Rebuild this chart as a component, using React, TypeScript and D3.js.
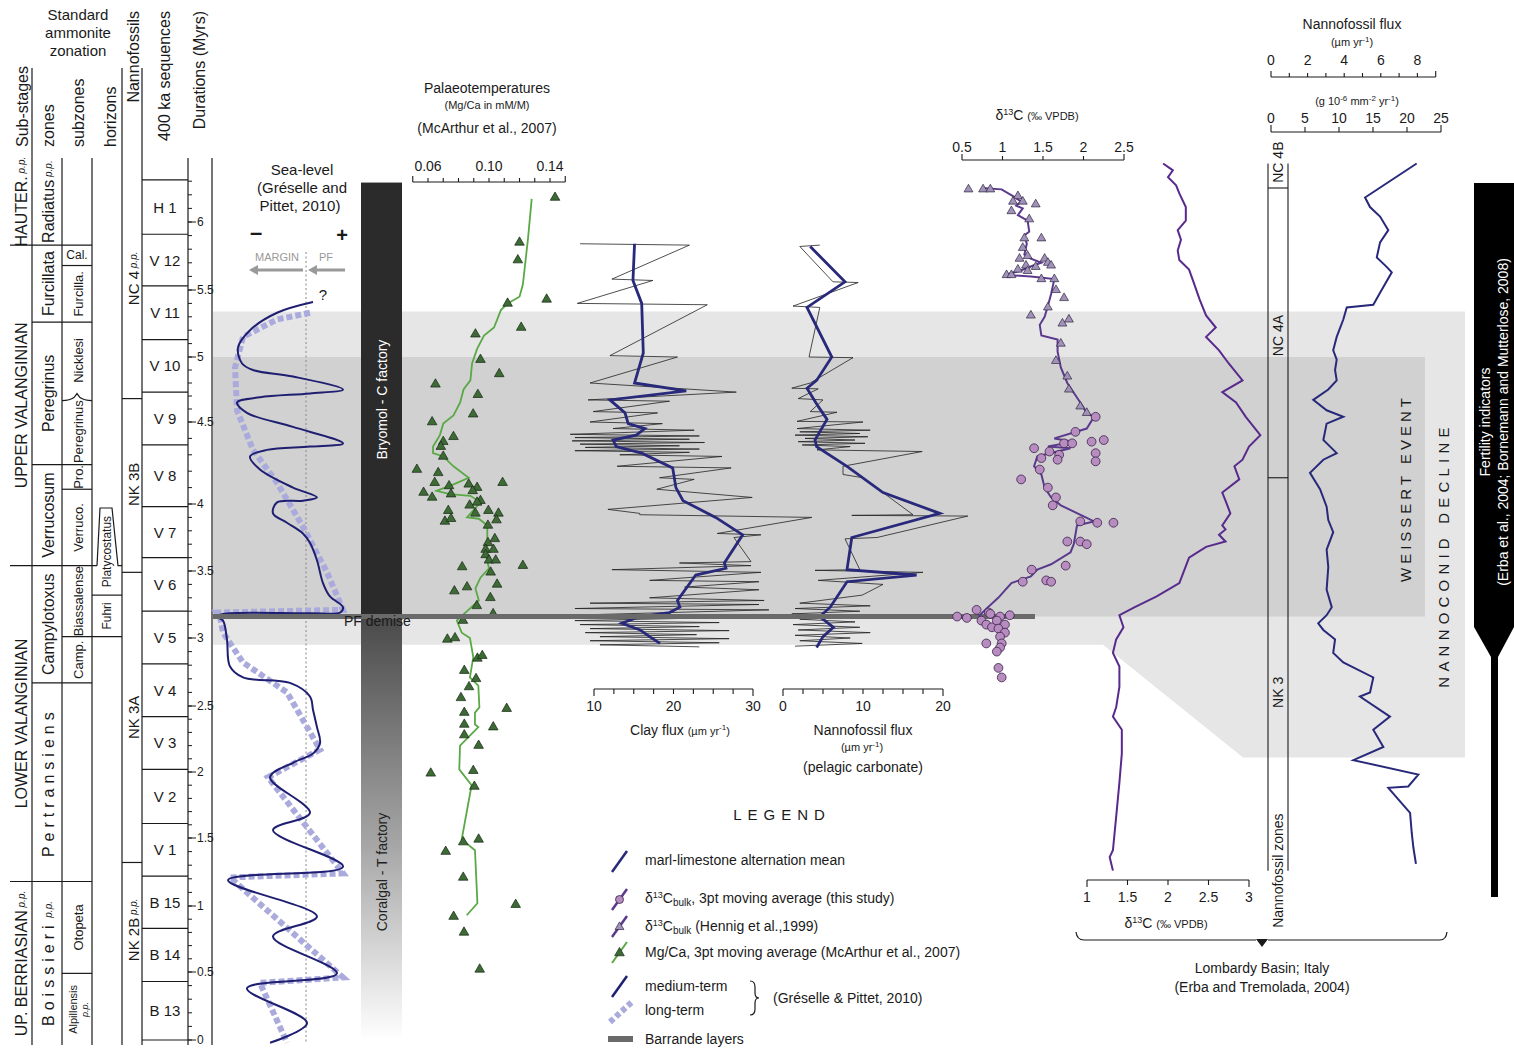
import React from "react";
import * as d3 from "d3";

const FONT = "'Liberation Sans', Arial, Helvetica, sans-serif";

/* ===================== DATA ===================== */
// Durations axis (Myr)
const durationTicks = [0, 0.5, 1, 1.5, 2, 2.5, 3, 3.5, 4, 4.5, 5, 5.5, 6];

// 400 ka sequences (boundaries in Myr, top -> bottom)
const sequenceBounds = [6.31, 5.91, 5.53, 5.13, 4.73, 4.36, 3.98, 3.6, 3.2, 2.81, 2.42, 2.02, 1.61, 1.22, 0.83, 0.43, 0];
const sequenceNames = ["H 1", "V 12", "V 11", "V 10", "V 9", "V 8", "V 7", "V 6", "V 5", "V 4", "V 3", "V 2", "V 1", "B 15", "B 14", "B 13"];

type Unit = { name: string; top: number; bottom: number; pp?: boolean; spaced?: boolean; at?: number };

const subStages: Unit[] = [
  { name: "HAUTER.", top: 6.47, bottom: 5.83, pp: true },
  { name: "UPPER VALANGINIAN", top: 5.83, bottom: 3.54 },
  { name: "LOWER VALANGINIAN", top: 3.54, bottom: 1.18 },
  { name: "UP. BERRIASIAN", top: 1.18, bottom: -0.04, pp: true },
];
const ammoniteZones: Unit[] = [
  { name: "Radiatus", top: 6.47, bottom: 5.83, pp: true },
  { name: "Furcillata", top: 5.83, bottom: 5.26 },
  { name: "Peregrinus", top: 5.26, bottom: 4.24 },
  { name: "Verrucosum", top: 4.24, bottom: 3.54 },
  { name: "Campylotoxus", top: 3.54, bottom: 2.67 },
  { name: "Pertransiens", top: 2.67, bottom: 1.18, spaced: true },
  { name: "Boissieri", top: 1.18, bottom: -0.04, spaced: true, pp: true },
];
const ammoniteSubzones: Unit[] = [
  { name: "Furcilla.", top: 5.68, bottom: 5.26 },
  { name: "Nicklesi", top: 5.26, bottom: 4.68 },
  { name: "Peregrinus", top: 4.68, bottom: 4.24 },
  { name: "Pro.", top: 4.24, bottom: 4.09 },
  { name: "Verruco.", top: 4.09, bottom: 3.54 },
  { name: "Biassalense", top: 3.54, bottom: 3.01 },
  { name: "Camp.", top: 3.01, bottom: 2.67 },
  { name: "Otopeta", top: 1.18, bottom: 0.49 },
];
const calSubzone: Unit = { name: "Cal.", top: 5.83, bottom: 5.68 };
const alpSubzone: Unit = { name: "Alpillensis", top: 0.49, bottom: -0.04, pp: true };
const horizons: Unit[] = [
  { name: "Platycostatus", top: 3.97, bottom: 3.32 },
  { name: "Fuhri", top: 3.32, bottom: 3.01 },
];
const nannoZones: Unit[] = [
  { name: "NC 4", top: 6.47, bottom: 4.68, pp: true },
  { name: "NK 3B", top: 4.68, bottom: 3.49, at: 4.12 },
  { name: "NK 3A", top: 3.49, bottom: 1.32 },
  { name: "NK 2B", top: 1.32, bottom: -0.04, pp: true, at: 0.82 },
];
const lombardyZones: Unit[] = [
  { name: "NC 4B", top: 6.43, bottom: 6.25, at: 6.44 },
  { name: "NC 4A", top: 6.25, bottom: 4.16, at: 5.16 },
  { name: "NK 3", top: 4.16, bottom: 1.26, at: 2.6 },
];

// Events (Myr)
const weissertLight = { top: 5.34, bottom: 2.95, lombardyBottom: 2.11 };
const weissertDark = { top: 5.0, bottom: 3.16 };
const pfDemise = 3.16;
const bryomolTop = 6.29;
const seaDatum = 6.86; // margin / platform boundary on sea-level scale

// Sea-level (Gréselle & Pittet 2010): [age Myr, relative level]
const seaMedium: [number, number][] = [
  [5.41, 7.36], [5.33, 4.79], [5.2, 2.86], [5.07, 2.0], [4.95, 2.29], [4.9, 3.07], [4.85, 5.93], [4.75, 9.5],
  [4.72, 7.14], [4.69, 3.57], [4.65, 1.93], [4.57, 2.64], [4.47, 5.93], [4.37, 9.5], [4.35, 7.14], [4.33, 4.07],
  [4.29, 2.86], [4.21, 3.57], [4.1, 5.93], [4.04, 7.64], [4.02, 6.64], [4.01, 4.79], [3.93, 4.5], [3.86, 5.5],
  [3.78, 6.64], [3.71, 7.14], [3.58, 7.64], [3.41, 8.07], [3.31, 8.57], [3.23, 9.5], [3.19, 9.29], [3.185, 7.14],
  [3.18, 0.93], [3.16, 0.5], [3.13, 0.93], [2.99, 1.21], [2.79, 1.43], [2.71, 2.36], [2.67, 5.71], [2.57, 7.14],
  [2.47, 7.36], [2.34, 7.64], [2.22, 7.86], [2.14, 7.36], [2.07, 5.93], [1.96, 4.29], [1.69, 7.14], [1.56, 4.5],
  [1.29, 9.5], [1.19, 1.29], [0.92, 7.64], [0.77, 4.5], [0.49, 9.07], [0.38, 2.64], [0.125, 6.93], [-0.02, 4.29],
];
const seaLong: [number, number][] = [
  [5.33, 7.14], [5.28, 4.79], [5.15, 2.36], [4.92, 1.79], [4.59, 1.93], [4.33, 3.07], [4.13, 4.79], [3.83, 6.64],
  [3.49, 8.36], [3.21, 9.5], [3.19, 0.5], [3.16, 0.71], [3.04, 0.93], [2.82, 2.36], [2.6, 5.5], [2.17, 7.86],
  [1.96, 4.14], [1.24, 9.5], [1.21, 1.43], [0.46, 9.5], [0.42, 3.57], [-0.02, 5.5],
];

// Mg/Ca (McArthur et al. 2007): 3-pt moving average and samples [age, Mg/Ca]
const mgAverage: [number, number][] = [
  [6.17, 0.128], [5.88, 0.1256], [5.54, 0.1222], [5.45, 0.12], [5.4, 0.1122], [5.35, 0.1078], [5.22, 0.1033],
  [5.16, 0.0967], [5.06, 0.0922], [4.95, 0.0889], [4.82, 0.0878], [4.75, 0.0833], [4.65, 0.0811], [4.55, 0.0767],
  [4.49, 0.07], [4.42, 0.0678], [4.35, 0.0633], [4.31, 0.0633], [4.29, 0.07], [4.23, 0.0767], [4.16, 0.0867],
  [4.12, 0.0767], [4.08, 0.0656], [4.06, 0.0744], [4.05, 0.0878], [4.01, 0.0944], [3.9, 0.0856], [3.89, 0.0933],
  [3.84, 0.0989], [3.74, 0.0989], [3.63, 0.0978], [3.52, 0.1], [3.45, 0.0944], [3.37, 0.0911], [3.28, 0.0933],
  [3.2, 0.0856], [3.13, 0.0789], [3.04, 0.0821], [3.0, 0.0875], [2.86, 0.0897], [2.71, 0.0875], [2.65, 0.093],
  [2.49, 0.0937], [2.45, 0.0908], [2.36, 0.0908], [2.34, 0.093], [2.2, 0.081], [2.02, 0.0805], [1.9, 0.0886],
  [1.49, 0.0821], [1.41, 0.0908], [1.02, 0.0924], [0.93, 0.0854],
];
const mgSamples: [number, number][] = [
  [6.18, 0.1433], [5.85, 0.12], [5.72, 0.1189], [5.4, 0.1122], [5.43, 0.1378], [5.17, 0.0911], [5.22, 0.1211],
  [4.98, 0.0944], [4.87, 0.1067], [4.79, 0.0649], [4.71, 0.0927], [4.56, 0.0896], [4.5, 0.0627], [4.41, 0.0767],
  [4.38, 0.07], [4.35, 0.0684], [4.29, 0.07], [4.21, 0.0527], [4.19, 0.0667], [4.13, 0.0644], [4.07, 0.0571],
  [4.04, 0.0627], [4.11, 0.0738], [4.06, 0.0751], [4.12, 0.0867], [4.1, 0.0922], [4.08, 0.0893], [4.13, 0.1089],
  [4.02, 0.0944], [4.01, 0.0922], [3.99, 0.0873], [3.95, 0.0996], [3.93, 0.1062], [3.93, 0.0911], [3.95, 0.0733],
  [3.87, 0.0711], [3.89, 0.0751], [3.88, 0.1049], [3.84, 0.0993], [3.74, 0.1038], [3.71, 0.0993], [3.66, 0.0978],
  [3.66, 0.1029], [3.62, 0.0978], [3.58, 0.1], [3.58, 0.1044], [3.53, 0.0824], [3.54, 0.1222], [3.49, 0.1011],
  [3.4, 0.1053], [3.38, 0.0856], [3.35, 0.0773], [3.3, 0.1009], [3.24, 0.092], [3.18, 0.1027], [3.13, 0.0829],
  [2.99, 0.0727], [3.0, 0.0777], [2.85, 0.0924], [2.87, 0.0956], [2.76, 0.0838], [2.7, 0.0915], [2.64, 0.0869],
  [2.56, 0.0816], [2.48, 0.1116], [2.45, 0.0838], [2.36, 0.0838], [2.34, 0.1028], [2.28, 0.0838], [2.2, 0.0932],
  [1.99, 0.0618], [2.01, 0.0897], [1.89, 0.0904], [1.47, 0.0831], [1.49, 0.0932], [1.4, 0.0716], [1.21, 0.0831],
  [1.01, 0.1175], [0.92, 0.0768], [0.8, 0.0836], [0.52, 0.0939],
];

// Clay flux (µm/yr): raw alternations and mean [age, flux]
const clayRaw: [number, number][] = [
  [5.84, 8.25], [5.83, 22.0], [5.58, 12.25], [5.57, 17.4], [5.4, 7.9], [5.39, 24.25], [5.01, 12.0], [5.0, 20.5],
  [4.8, 9.5], [4.73, 27.9], [4.67, 9.25], [4.66, 19.5], [4.58, 9.9], [4.57, 18.0], [4.5, 9.5], [4.49, 18.6],
  [4.46, 12.4], [4.45, 22.6], [4.425, 7.0], [4.415, 23.25], [4.405, 7.6], [4.395, 22.0], [4.385, 7.25],
  [4.375, 23.9], [4.365, 8.25], [4.355, 20.75], [4.345, 8.9], [4.335, 23.25], [4.325, 7.6], [4.315, 22.0],
  [4.3, 13.25], [4.29, 26.1], [4.23, 12.9], [4.22, 27.25], [4.16, 18.25], [4.15, 22.6], [4.09, 17.9], [4.04, 29.9],
  [3.96, 11.75], [3.93, 15.75], [3.92, 15.75], [3.9, 37.4], [3.78, 25.5], [3.77, 31.0], [3.75, 27.6], [3.57, 29.75],
  [3.56, 20.75], [3.54, 29.75], [3.51, 12.25], [3.49, 31.0], [3.43, 17.0], [3.42, 30.75], [3.38, 21.4], [3.36, 30.75],
  [3.3, 17.0], [3.28, 31.4], [3.26, 9.5], [3.25, 30.75], [3.22, 7.6], [3.21, 32.0], [3.17, 7.0], [3.16, 32.75],
  [3.13, 7.6], [3.115, 25.75], [3.1, 8.25], [3.085, 23.25], [3.07, 9.5], [3.055, 27.0], [3.04, 8.9], [3.025, 22.9],
  [3.01, 10.75], [2.995, 27.0], [2.98, 9.5], [2.965, 25.75], [2.95, 10.75], [2.935, 23.25],
];
const clayMean: [number, number][] = [
  [5.84, 15.1], [5.57, 14.9], [5.4, 16.0], [5.03, 16.2], [4.8, 15.1], [4.74, 21.6], [4.67, 12.0], [4.57, 13.9],
  [4.49, 14.3], [4.46, 16.4], [4.42, 15.3], [4.39, 12.4], [4.35, 12.8], [4.31, 16.0], [4.22, 19.9], [4.1, 20.3],
  [4.02, 21.2], [3.9, 25.3], [3.77, 28.7], [3.56, 26.4], [3.52, 26.6], [3.47, 22.8], [3.28, 20.5], [3.23, 20.8],
  [3.19, 19.5], [3.16, 15.8], [3.11, 13.5], [3.06, 15.8], [3.01, 17.0], [2.96, 18.3],
];

// Nannofossil flux (µm/yr), pelagic carbonate
const nannoRaw: [number, number][] = [
  [5.83, 4.6], [5.82, 2.1], [5.56, 6.25], [5.555, 9.4], [5.38, 1.25], [5.37, 4.6], [5.0, 3.25], [4.995, 8.75],
  [4.8, 3.4], [4.76, 1.1], [4.755, 4.4], [4.68, 1.9], [4.67, 5.0], [4.58, 3.4], [4.575, 6.75], [4.505, 1.75],
  [4.5, 10.0], [4.46, 1.75], [4.45, 10.9], [4.44, 2.1], [4.43, 9.6], [4.42, 1.5], [4.41, 10.6], [4.4, 2.75],
  [4.39, 9.0], [4.38, 1.9], [4.37, 10.25], [4.36, 2.4], [4.35, 8.4], [4.33, 4.25], [4.32, 17.4], [4.23, 7.5],
  [4.18, 7.5], [4.16, 10.0], [3.92, 16.25], [3.915, 8.6], [3.91, 23.1], [3.75, 11.75], [3.74, 7.75], [3.51, 9.6],
  [3.505, 4.0], [3.49, 17.5], [3.43, 4.4], [3.4, 12.5], [3.32, 9.9], [3.26, 2.1], [3.24, 10.9], [3.22, 1.5],
  [3.2, 9.6], [3.18, 1.1], [3.16, 10.25], [3.14, 2.1], [3.12, 9.0], [3.1, 1.25], [3.08, 9.6], [3.06, 1.9],
  [3.04, 10.9], [3.02, 1.5], [3.0, 8.4], [2.98, 2.1], [2.96, 9.9], [2.94, 1.5],
];
const nannoMean: [number, number][] = [
  [5.82, 3.4], [5.56, 7.75], [5.37, 3.0], [5.0, 6.1], [4.82, 4.2], [4.76, 3.0], [4.62, 4.4], [4.52, 5.5],
  [4.39, 4.0], [4.35, 4.2], [4.23, 8.0], [4.07, 12.5], [3.93, 19.6], [3.75, 8.6], [3.51, 8.0], [3.47, 16.7],
  [3.42, 8.0], [3.23, 5.9], [3.16, 4.6], [3.08, 6.3], [3.01, 5.0], [2.93, 4.2],
];

// δ13C bulk (‰ VPDB): composite 3-pt average, Hennig et al. 1999, this study
const d13Average: [number, number][] = [
  [6.25, 0.744], [6.24, 0.988], [6.19, 1.13], [6.15, 1.23], [6.12, 1.17], [6.1, 1.25], [6.05, 1.19], [6.01, 1.31],
  [5.93, 1.33], [5.9, 1.27], [5.84, 1.3], [5.76, 1.27], [5.73, 1.35], [5.7, 1.48], [5.68, 1.38], [5.64, 1.21],
  [5.61, 1.03], [5.6, 1.35], [5.58, 1.64], [5.47, 1.6], [5.38, 1.56], [5.3, 1.52], [5.24, 1.46], [5.16, 1.48],
  [5.13, 1.68], [5.04, 1.68], [4.92, 1.72], [4.8, 1.8], [4.65, 1.96], [4.57, 2.04], [4.54, 2.13], [4.46, 2.04],
  [4.4, 1.64], [4.38, 1.88], [4.35, 1.56], [4.34, 1.84], [4.29, 1.43], [4.23, 1.39], [4.18, 1.48], [4.1, 1.52],
  [4.04, 1.6], [3.99, 1.72], [3.87, 2.13], [3.84, 1.92], [3.7, 1.88], [3.64, 1.84], [3.55, 1.6], [3.51, 1.43],
  [3.46, 1.35], [3.41, 1.11], [3.3, 0.947], [3.21, 0.785], [3.16, 0.703],
];
const d13Hennig: [number, number][] = [
  [6.24, 0.58], [6.24, 0.76], [6.24, 0.85], [6.19, 1.19], [6.15, 1.13], [6.15, 1.25], [6.13, 1.41], [6.08, 1.11],
  [6.02, 1.33], [5.88, 1.27], [5.88, 1.48], [5.81, 1.25], [5.73, 1.21], [5.75, 1.31], [5.73, 1.52], [5.68, 1.29],
  [5.67, 1.41], [5.7, 1.56], [5.68, 1.6], [5.65, 1.19], [5.64, 1.31], [5.61, 1.05], [5.61, 1.11], [5.58, 1.48],
  [5.58, 1.64], [5.5, 1.66], [5.44, 1.76], [5.37, 1.56], [5.31, 1.35], [5.25, 1.74], [5.28, 1.82], [5.1, 1.72],
  [4.97, 1.66], [4.85, 1.8], [4.75, 1.82], [4.62, 1.96], [4.57, 2.04],
];
const d13Study: [number, number][] = [
  [4.54, 2.15], [4.44, 1.9], [4.38, 2.1], [4.39, 2.25], [4.34, 1.39], [4.37, 1.76], [4.37, 1.86], [4.32, 1.58],
  [4.3, 1.7], [4.31, 2.15], [4.28, 1.48], [4.27, 1.68], [4.21, 1.46], [4.26, 2.15], [4.15, 1.23], [4.1, 1.56],
  [4.04, 1.66], [3.99, 1.62], [3.87, 1.96], [3.86, 2.17], [3.86, 2.37], [3.72, 1.8], [3.72, 1.96], [3.7, 2.04],
  [3.54, 1.78], [3.51, 1.36], [3.43, 1.54], [3.42, 1.6], [3.42, 1.25], [3.21, 0.68], [3.19, 0.83], [3.16, 0.44],
  [3.15, 0.56], [3.13, 0.74], [3.1, 0.8], [3.18, 0.85], [3.16, 0.97], [3.17, 1.09], [3.08, 0.87], [3.13, 0.93],
  [3.1, 1.03], [3.07, 0.95], [3.04, 1.03], [3.01, 0.97], [2.96, 0.99], [2.93, 0.97], [2.96, 0.8], [2.9, 0.93],
  [2.78, 0.95], [2.71, 0.99],
];

// Lombardy Basin (Erba & Tremolada 2004)
const lombardyD13: [number, number][] = [
  [6.43, 1.94], [6.38, 2.06], [6.33, 2.0], [6.27, 2.1], [6.21, 2.14], [6.11, 2.22], [6.01, 2.22], [5.94, 2.12],
  [5.87, 2.16], [5.79, 2.12], [5.72, 2.14], [5.65, 2.26], [5.55, 2.32], [5.43, 2.39], [5.31, 2.47], [5.22, 2.59],
  [5.15, 2.47], [5.05, 2.63], [4.95, 2.75], [4.82, 2.92], [4.73, 2.67], [4.65, 2.84], [4.54, 2.96], [4.42, 3.14],
  [4.35, 3.0], [4.27, 2.92], [4.23, 2.82], [4.15, 2.88], [4.07, 2.67], [4.02, 2.71], [3.93, 2.77], [3.84, 2.67],
  [3.81, 2.71], [3.77, 2.63], [3.72, 2.71], [3.68, 2.47], [3.6, 2.26], [3.41, 2.14], [3.31, 1.86], [3.23, 1.59],
  [3.17, 1.4], [3.08, 1.45], [2.99, 1.36], [2.89, 1.32], [2.79, 1.4], [2.64, 1.4], [2.49, 1.36], [2.42, 1.32],
  [2.32, 1.43], [2.14, 1.43], [1.92, 1.4], [1.66, 1.36], [1.41, 1.32], [1.36, 1.28], [1.26, 1.32],
];
const lombardyNanno: [number, number][] = [
  [6.43, 7.96], [6.18, 5.14], [6.11, 5.41], [6.04, 5.96], [5.94, 6.41], [5.85, 5.96], [5.74, 5.78], [5.67, 6.32],
  [5.63, 6.6], [5.48, 5.96], [5.39, 5.59], [5.37, 4.14], [5.28, 3.95], [5.15, 3.59], [5.05, 3.4], [4.98, 3.59],
  [4.9, 3.5], [4.82, 3.59], [4.75, 3.13], [4.67, 2.31], [4.59, 3.04], [4.54, 3.95], [4.49, 3.04], [4.39, 2.86],
  [4.31, 3.59], [4.27, 2.86], [4.19, 2.13], [4.09, 2.68], [3.98, 3.04], [3.88, 3.13], [3.79, 3.4], [3.66, 3.04],
  [3.53, 3.13], [3.36, 3.04], [3.23, 3.32], [3.17, 3.04], [3.11, 2.58], [3.06, 2.86], [3.01, 3.32], [2.99, 3.5],
  [2.89, 3.4], [2.82, 3.95], [2.71, 5.59], [2.6, 5.41], [2.57, 4.86], [2.42, 6.5], [2.32, 5.59], [2.19, 6.14],
  [2.09, 4.5], [1.98, 8.05], [1.89, 7.5], [1.88, 6.41], [1.69, 7.6], [1.54, 7.69], [1.43, 7.78], [1.31, 7.92],
];

// Axis ticks
const mgTicks = d3.range(0.05, 0.1501, 0.01);
const mgLabels = [0.06, 0.1, 0.14];
const clayTicks = d3.range(10, 30.01, 2.5);
const clayLabels = [10, 20, 30];
const nanTicks = d3.range(0, 20.01, 2.5);
const nanLabels = [0, 10, 20];
const d13Ticks = [0.5, 1, 1.5, 2, 2.5];
const lombTicks = [1, 1.5, 2, 2.5, 3];
const lnUmTicks = d3.range(0, 9.01, 1);
const lnUmLabels = [0, 2, 4, 6, 8];
const lnGTicks = [0, 5, 10, 15, 20, 25];

/* ===================== LAYOUT ===================== */
const AGE_PX = [1040, 972, 906, 838, 772, 706, 638, 571, 504, 422, 357, 290, 222];
const X = { sub: 10, subR: 32, zoneR: 62, subzR: 92, horR: 122, nanR: 142, axis: 188, durR: 212 };
const HEAD_TOP = 68;
const COL_TOP = 158;
const COL_BOTTOM = 1045;
const INK = "#1a1a1a";

const VT = ({ x, y, size = 15, fill = INK, spacing = 0, anchor = "middle", children, weight }: any) => (
  <text
    transform={`translate(${x},${y}) rotate(-90)`}
    textAnchor={anchor}
    dominantBaseline="central"
    fontSize={size}
    fill={fill}
    fontWeight={weight}
    style={{ letterSpacing: spacing }}
  >
    {children}
  </text>
);

function HAxis({ scale, y, ticks, labels, up, fmt, tick = 5, labelDy, size = 14 }: any) {
  const dir = up ? -1 : 1;
  const x0 = scale(ticks[0]);
  const x1 = scale(ticks[ticks.length - 1]);
  return (
    <g>
      <line x1={x0} x2={x1} y1={y} y2={y} stroke={INK} strokeWidth={1.1} />
      {ticks.map((t: number, i: number) => (
        <line key={i} x1={scale(t)} x2={scale(t)} y1={y} y2={y + dir * (i === 0 || i === ticks.length - 1 ? tick + 2 : tick)} stroke={INK} strokeWidth={1.1} />
      ))}
      {labels.map((t: number, i: number) => (
        <text key={i} x={scale(t)} y={y + labelDy} textAnchor="middle" fontSize={size} fill={INK}>
          {fmt ? fmt(t) : t}
        </text>
      ))}
    </g>
  );
}

const PP = ({ size = 10 }: any) => (
  <tspan fontStyle="italic" fontSize={size} style={{ letterSpacing: 0 }}> p.p.</tspan>
);

export default function App() {
  const y = d3.scaleLinear().domain(durationTicks).range(AGE_PX);
  const mid = (u: Unit) => (u.at !== undefined ? y(u.at) : (y(u.top) + y(u.bottom)) / 2);

  const seaX = d3.scaleLinear().domain([0, 10]).range([210, 350]);
  const mgX = d3.scaleLinear().domain([0.06, 0.14]).range([428, 550]);
  const clayX = d3.scaleLinear().domain([10, 30]).range([594, 753]);
  const nanX = d3.scaleLinear().domain([0, 20]).range([783, 943]);
  const d13X = d3.scaleLinear().domain([0.5, 2.5]).range([962, 1124]);
  const lombX = d3.scaleLinear().domain([1, 3]).range([1087, 1249]);
  const lnUm = d3.scaleLinear().domain([0, 9]).range([1271, 1435.7]);
  const lnG = d3.scaleLinear().domain([0, 25]).range([1271, 1441]);

  const mk = (xs: any, curve: any = d3.curveLinear) =>
    d3.line<[number, number]>().x((d) => xs(d[1])).y((d) => y(d[0])).curve(curve);

  const tri = d3.symbol(d3.symbolTriangle, 40)() as string;
  const triS = d3.symbol(d3.symbolTriangle, 34)() as string;

  const minorTicks = d3.range(0, 6.31, 0.1);

  const yPF = y(pfDemise);
  const lightPoly = [
    [213, y(weissertLight.top)], [1465, y(weissertLight.top)], [1465, y(weissertLight.lombardyBottom)],
    [1243, y(weissertLight.lombardyBottom)], [1103, y(weissertLight.bottom)], [213, y(weissertLight.bottom)],
  ].map((p) => p.join(",")).join(" ");

  const seaDX = seaX(seaDatum);
  const yNick = y(4.68);

  return (
    <svg width={1514} height={1050} viewBox="0 0 1514 1050" fontFamily={FONT}
      style={{ position: "absolute", left: 0, top: 0, display: "block" }}>
      <defs>
        <linearGradient id="coralgal" x1="0" y1="0" x2="0" y2="1">
          <stop offset="0" stopColor="#4a4a4a" />
          <stop offset="0.55" stopColor="#a8a8a8" />
          <stop offset="1" stopColor="#ffffff" />
        </linearGradient>
      </defs>
      <rect width={1514} height={1050} fill="#fff" />

      {/* Weissert bands */}
      <polygon points={lightPoly} fill="#e6e6e6" />
      <rect x={213} y={y(weissertDark.top)} width={1425 - 213} height={y(weissertDark.bottom) - y(weissertDark.top)} fill="#d1d1d1" />

      {/* ===== Stratigraphic columns ===== */}
      <g fill={INK}>
        <text x={78} y={20} textAnchor="middle" fontSize={15}>Standard</text>
        <text x={78} y={38} textAnchor="middle" fontSize={15}>ammonite</text>
        <text x={78} y={56} textAnchor="middle" fontSize={15}>zonation</text>
        <VT x={22} y={147} anchor="start" size={16}>Sub-stages</VT>
        <VT x={48} y={147} anchor="start" size={16}>zones</VT>
        <VT x={78} y={147} anchor="start" size={16}>subzones</VT>
        <VT x={110} y={147} anchor="start" size={16}>horizons</VT>
        <VT x={133} y={11} anchor="end" size={16}>Nannofossils</VT>
        <VT x={164} y={11} anchor="end" size={16}>400 ka sequences</VT>
        <VT x={199} y={11} anchor="end" size={16}>Durations (Myrs)</VT>
      </g>
      <g stroke={INK} strokeWidth={1.2}>
        <line x1={X.subR} x2={X.subR} y1={HEAD_TOP} y2={COL_BOTTOM} />
        <line x1={X.zoneR} x2={X.zoneR} y1={COL_TOP} y2={COL_BOTTOM} />
        <line x1={X.subzR} x2={X.subzR} y1={COL_TOP} y2={COL_BOTTOM} />
        <line x1={X.horR} x2={X.horR} y1={HEAD_TOP} y2={COL_BOTTOM} />
        <line x1={X.nanR} x2={X.nanR} y1={HEAD_TOP} y2={COL_BOTTOM} />
        <line x1={X.axis} x2={X.axis} y1={COL_TOP} y2={COL_BOTTOM} />
        <line x1={X.durR} x2={X.durR} y1={COL_TOP} y2={COL_BOTTOM} />
        {/* sub-stage boundaries */}
        <line x1={X.sub} x2={X.subzR} y1={y(5.83)} y2={y(5.83)} />
        <line x1={X.sub} x2={97} y1={y(3.54)} y2={y(3.54)} />
        <line x1={X.sub} x2={X.subzR} y1={y(1.18)} y2={y(1.18)} />
        {/* zone boundaries */}
        {[5.26, 4.24, 2.67].map((a) => <line key={a} x1={X.subR} x2={X.subzR} y1={y(a)} y2={y(a)} />)}
        {/* subzone boundaries */}
        {[5.68, 4.09, 0.49].map((a) => <line key={a} x1={X.zoneR} x2={X.subzR} y1={y(a)} y2={y(a)} />)}
        <line x1={X.zoneR} x2={X.horR} y1={y(3.01)} y2={y(3.01)} />
        <line x1={X.subzR} x2={X.horR} y1={y(3.32)} y2={y(3.32)} />
        <path fill="none" d={`M${X.zoneR},${yNick + 2} Q70,${yNick + 2} 74,${yNick - 1} L77,${yNick - 5} L80,${yNick - 1} Q84,${yNick + 2} ${X.subzR},${yNick + 2}`} />
        {/* Platycostatus horizon */}
        <path fill="none" d={`M97,${y(3.54)} L100,${y(3.97)} L112,${y(3.97)} L118,${y(3.54)} L${X.horR},${y(3.54)}`} />
        {/* nannofossil boundaries */}
        {[4.68, 3.49, 1.32].map((a) => <line key={a} x1={X.horR} x2={X.nanR} y1={y(a)} y2={y(a)} />)}
        {/* sequences */}
        {sequenceBounds.map((a) => <line key={a} x1={X.nanR} x2={X.axis} y1={y(a)} y2={y(a)} />)}
      </g>
      <g fill={INK}>
        {subStages.map((u) => (
          <VT key={u.name} x={21} y={mid(u)} size={16}>{u.name}{u.pp && <PP />}</VT>
        ))}
        {ammoniteZones.map((u) => (
          <VT key={u.name} x={48} y={mid(u)} size={16}>
            <tspan style={{ letterSpacing: u.spaced ? 5 : 0 }}>{u.name}</tspan>
            {u.pp && <PP />}
          </VT>
        ))}
        {ammoniteSubzones.map((u) => (
          <VT key={u.name + u.top} x={78} y={mid(u)} size={13}>{u.name}</VT>
        ))}
        <text x={77} y={mid(calSubzone)} textAnchor="middle" dominantBaseline="central" fontSize={12}>{calSubzone.name}</text>
        <VT x={73} y={mid(alpSubzone)} size={11}>{alpSubzone.name}</VT>
        <VT x={85} y={mid(alpSubzone)} size={9}><tspan fontStyle="italic">p.p.</tspan></VT>
        {horizons.map((u) => (
          <VT key={u.name} x={107} y={mid(u)} size={12}>{u.name}</VT>
        ))}
        {nannoZones.map((u) => (
          <VT key={u.name} x={133} y={mid(u)} size={15}>{u.name}{u.pp && <PP />}</VT>
        ))}
        {sequenceNames.map((n, i) => (
          <text key={n} x={165} y={(y(sequenceBounds[i]) + y(sequenceBounds[i + 1])) / 2} textAnchor="middle" dominantBaseline="central" fontSize={15}>{n}</text>
        ))}
      </g>
      {/* Durations axis */}
      <g stroke={INK} strokeWidth={1}>
        {minorTicks.map((t, i) => <line key={i} x1={X.axis} x2={X.axis + 4} y1={y(t)} y2={y(t)} />)}
        {durationTicks.map((t) => <line key={t} x1={X.axis} x2={X.axis + 8} y1={y(t)} y2={y(t)} />)}
      </g>
      <g fill={INK} fontSize={12}>
        {durationTicks.map((t) => (
          <text key={t} x={X.axis + 9} y={y(t)} dominantBaseline="central">{t}</text>
        ))}
      </g>

      {/* ===== Sea level ===== */}
      <g fill={INK} fontSize={15} textAnchor="middle">
        <text x={302} y={175}>Sea-level</text>
        <text x={302} y={193}>(Gréselle and</text>
        <text x={300} y={211}>Pittet, 2010)</text>
        <text x={256} y={240} fontSize={22} fontWeight="bold">–</text>
        <text x={342} y={242} fontSize={20} fontWeight="bold">+</text>
        <text x={323} y={300} fontSize={15}>?</text>
      </g>
      <g fill="#999" stroke="none" fontSize={11}>
        <text x={277} y={261} textAnchor="middle">MARGIN</text>
        <text x={326} y={261} textAnchor="middle">PF</text>
        <line x1={303} x2={256} y1={270} y2={270} stroke="#999" strokeWidth={3} />
        <polygon points="249,270 258,265 258,275" />
        <line x1={345} x2={314} y1={270} y2={270} stroke="#999" strokeWidth={3} />
        <polygon points="308,270 317,265 317,275" />
      </g>
      <line x1={seaDX} x2={seaDX} y1={252} y2={1042} stroke="#888" strokeWidth={1} strokeDasharray="2 2.5" />
      <path d={mk(seaX)(seaLong) as string} fill="none" stroke="#aaaadd" strokeWidth={6} strokeDasharray="6 3" />
      <path d={mk(seaX, d3.curveCatmullRom.alpha(0.5))(seaMedium) as string} fill="none" stroke="#1f1f72" strokeWidth={2} />

      {/* Factory bar */}
      <rect x={361} y={y(bryomolTop)} width={41} height={yPF - y(bryomolTop)} fill="#2b2b2b" />
      <rect x={361} y={yPF} width={41} height={y(0) - yPF} fill="url(#coralgal)" />
      <VT x={382} y={(y(bryomolTop) + yPF) / 2} size={14} fill="#fff">Bryomol - C factory</VT>
      <VT x={382} y={872} size={14} fill="#222">Coralgal - T factory</VT>

      {/* ===== Palaeotemperatures ===== */}
      <g fill={INK} textAnchor="middle">
        <text x={487} y={93} fontSize={14}>Palaeotemperatures</text>
        <text x={487} y={109} fontSize={11}>(Mg/Ca in mM/M)</text>
        <text x={487} y={133} fontSize={14}>(McArthur et al., 2007)</text>
      </g>
      <HAxis scale={mgX} y={182} ticks={mgTicks} labels={mgLabels} up fmt={d3.format(".2f")} tick={4} labelDy={-11} />
      <path d={mk(mgX)(mgAverage) as string} fill="none" stroke="#5aa846" strokeWidth={1.8} />
      {mgSamples.map((d, i) => (
        <path key={i} d={tri} transform={`translate(${mgX(d[1])},${y(d[0])})`} fill="#3d6a35" stroke="#142712" strokeWidth={0.7} />
      ))}

      {/* ===== Clay flux ===== */}
      <path d={mk(clayX)(clayRaw) as string} fill="none" stroke="#222" strokeWidth={0.8} />
      <path d={mk(clayX)(clayMean) as string} fill="none" stroke="#28297a" strokeWidth={2.8} />
      <HAxis scale={clayX} y={689} ticks={clayTicks} labels={clayLabels} tick={5} labelDy={22} />
      <text x={680} y={735} textAnchor="middle" fontSize={14} fill={INK}>
        Clay flux <tspan fontSize={11}>(µm yr</tspan><tspan fontSize={8} dy={-5}>-1</tspan><tspan fontSize={11} dy={5}>)</tspan>
      </text>

      {/* ===== Nannofossil flux ===== */}
      <path d={mk(nanX)(nannoRaw) as string} fill="none" stroke="#222" strokeWidth={0.8} />
      <path d={mk(nanX)(nannoMean) as string} fill="none" stroke="#28297a" strokeWidth={2.8} />
      <HAxis scale={nanX} y={689} ticks={nanTicks} labels={nanLabels} tick={5} labelDy={22} />
      <g fill={INK} textAnchor="middle">
        <text x={863} y={735} fontSize={14}>Nannofossil flux</text>
        <text x={862} y={751} fontSize={11}>(µm yr<tspan fontSize={8} dy={-4}>-1</tspan><tspan dy={4}>)</tspan></text>
        <text x={863} y={772} fontSize={14}>(pelagic carbonate)</text>
      </g>

      {/* PF demise */}
      <line x1={213} x2={1035} y1={yPF} y2={yPF} stroke="#6a6a6a" strokeWidth={5} />
      <text x={344} y={yPF + 9} fontSize={14} fill={INK}>PF demise</text>

      {/* ===== δ13C ===== */}
      <text x={1037} y={120} textAnchor="middle" fontSize={14} fill={INK}>
        δ<tspan fontSize={9} dy={-5}>13</tspan><tspan dy={5}>C </tspan><tspan fontSize={11}>(‰ VPDB)</tspan>
      </text>
      <HAxis scale={d13X} y={160} ticks={d13Ticks} labels={d13Ticks} up tick={4} labelDy={-8} />
      <path d={mk(d13X)(d13Average) as string} fill="none" stroke="#5b3a8e" strokeWidth={2} />
      {d13Hennig.map((d, i) => (
        <path key={i} d={triS} transform={`translate(${d13X(d[1])},${y(d[0])})`} fill="#a291b8" stroke="#2c2640" strokeWidth={0.7} />
      ))}
      {d13Study.map((d, i) => (
        <circle key={i} cx={d13X(d[1])} cy={y(d[0])} r={4.4} fill="#b78cbf" stroke="#3a1f4d" strokeWidth={0.8} />
      ))}

      {/* ===== Lombardy Basin ===== */}
      <path d={mk(lombX)(lombardyD13) as string} fill="none" stroke="#582a8c" strokeWidth={2} />
      <HAxis scale={lombX} y={880} ticks={lombTicks} labels={lombTicks} tick={5} labelDy={22} />
      <text x={1166} y={928} textAnchor="middle" fontSize={14} fill={INK}>
        δ<tspan fontSize={9} dy={-5}>13</tspan><tspan dy={5}>C </tspan><tspan fontSize={11}>(‰ VPDB)</tspan>
      </text>
      <g stroke={INK} strokeWidth={1.1}>
        <line x1={1268} x2={1268} y1={y(lombardyZones[0].top)} y2={y(lombardyZones[2].bottom)} />
        <line x1={1288} x2={1288} y1={y(lombardyZones[0].top)} y2={y(lombardyZones[2].bottom)} />
        {lombardyZones.slice(1).map((z) => <line key={z.name} x1={1268} x2={1288} y1={y(z.top)} y2={y(z.top)} />)}
      </g>
      <g fill={INK}>
        {lombardyZones.map((z) => <VT key={z.name} x={1278} y={mid(z)} size={14}>{z.name}</VT>)}
        <VT x={1278} y={y(lombardyZones[2].bottom)} size={14}>Nannofossil zones</VT>
      </g>
      <path d={mk(lnUm)(lombardyNanno) as string} fill="none" stroke="#28297a" strokeWidth={2} />
      <g fill={INK} textAnchor="middle">
        <text x={1352} y={29} fontSize={14}>Nannofossil flux</text>
        <text x={1352} y={46} fontSize={11}>(µm yr<tspan fontSize={8} dy={-4}>-1</tspan><tspan dy={4}>)</tspan></text>
        <text x={1357} y={105} fontSize={11}>(g 10<tspan fontSize={8} dy={-4}>-6</tspan><tspan dy={4}> mm</tspan><tspan fontSize={8} dy={-4}>-2</tspan><tspan dy={4}> yr</tspan><tspan fontSize={8} dy={-4}>-1</tspan><tspan dy={4}>)</tspan></text>
      </g>
      <HAxis scale={lnUm} y={77} ticks={lnUmTicks} labels={lnUmLabels} up tick={4} labelDy={-12} />
      <HAxis scale={lnG} y={132} ticks={lnGTicks} labels={lnGTicks} up tick={5} labelDy={-9} />

      {/* Lombardy brace */}
      <path d="M1076,932 Q1077,940 1084,940 L1256,940 M1268,940 L1440,940 Q1446,940 1447,932" fill="none" stroke={INK} strokeWidth={1.2} />
      <polygon points="1256,939 1268,939 1262,947" fill={INK} />
      <g fill={INK} textAnchor="middle" fontSize={14}>
        <text x={1262} y={973}>Lombardy Basin; Italy</text>
        <text x={1262} y={992}>(Erba and Tremolada, 2004)</text>
      </g>

      {/* Event labels */}
      <VT x={1405} y={488} size={15} spacing={4}>WEISSERT EVENT</VT>
      <VT x={1443} y={555} size={15} spacing={5.2}>NANNOCONID DECLINE</VT>

      {/* Fertility indicators */}
      <path d="M1474,183 H1514 V627 L1498,657 V897 H1491 V657 L1474,627 Z" fill="#000" />
      <VT x={1485} y={422} size={14} fill="#fff">Fertility indicators</VT>
      <VT x={1503} y={422} size={14} fill="#fff">(Erba et al., 2004; Bornemann and Mutterlose, 2008)</VT>

      {/* ===== Legend ===== */}
      <text x={782} y={820} textAnchor="middle" fontSize={15} fill={INK} style={{ letterSpacing: 6 }}>LEGEND</text>
      <g fontSize={14} fill={INK}>
        <line x1={612} y1={872} x2={627} y2={851} stroke="#28297a" strokeWidth={2.5} />
        <text x={645} y={865}>marl-limestone alternation mean</text>

        <line x1={612} y1={910} x2={627} y2={889} stroke="#5b3a8e" strokeWidth={2.5} />
        <circle cx={619.5} cy={899.5} r={4} fill="#b78cbf" stroke="#3a1f4d" strokeWidth={0.8} />
        <text x={645} y={903}>δ<tspan fontSize={9} dy={-5}>13</tspan><tspan dy={5}>C</tspan><tspan fontSize={10} dy={3}>bulk</tspan><tspan dy={-3}>, 3pt moving average (this study)</tspan></text>

        <line x1={612} y1={937} x2={627} y2={916} stroke="#5b3a8e" strokeWidth={2.5} />
        <path d={triS} transform="translate(619.5,927)" fill="#a291b8" stroke="#2c2640" strokeWidth={0.7} />
        <text x={645} y={931}>δ<tspan fontSize={9} dy={-5}>13</tspan><tspan dy={5}>C</tspan><tspan fontSize={10} dy={3}>bulk</tspan><tspan dy={-3}>  (Hennig et al.,1999)</tspan></text>

        <line x1={612} y1={963} x2={627} y2={942} stroke="#5aa846" strokeWidth={2} />
        <path d={tri} transform="translate(619.5,953)" fill="#3d6a35" stroke="#142712" strokeWidth={0.7} />
        <text x={645} y={957}>Mg/Ca, 3pt moving average (McArthur et al., 2007)</text>

        <line x1={612} y1={997} x2={627} y2={976} stroke="#1f1f72" strokeWidth={2.5} />
        <text x={645} y={991}>medium-term</text>
        <line x1={610} y1={1022} x2={633} y2={1001} stroke="#aaaadd" strokeWidth={6} strokeDasharray="5 3" />
        <text x={645} y={1015}>long-term</text>
        <path d="M750,981 Q755,981 755,987 L755,993 Q755,998 759,998 Q755,998 755,1003 L755,1009 Q755,1015 750,1015" fill="none" stroke={INK} strokeWidth={1.2} />
        <text x={773} y={1003}>(Gréselle &amp; Pittet, 2010)</text>

        <rect x={608} y={1036} width={25} height={6} fill="#6a6a6a" />
        <text x={645} y={1044}>Barrande layers</text>
      </g>
    </svg>
  );
}
